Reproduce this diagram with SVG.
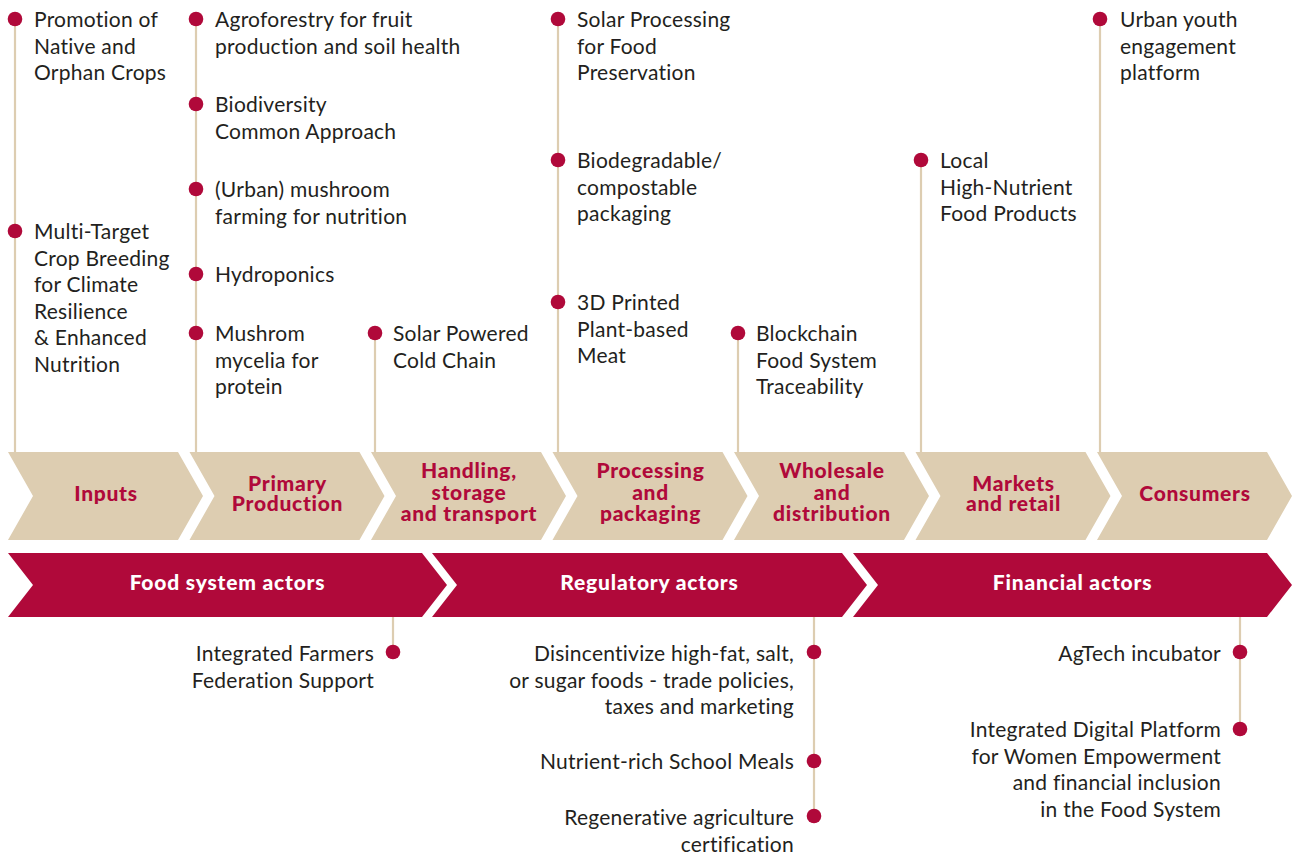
<svg xmlns="http://www.w3.org/2000/svg" width="1293" height="858" viewBox="0 0 1293 858">
<style>
.t{font-family:Lato,"Open Sans","Liberation Sans",sans-serif;font-size:21px;letter-spacing:0.25px;fill:#231f20}
.r{text-anchor:end}
.cl{font-family:Lato,"Open Sans","Liberation Sans",sans-serif;font-size:21px;font-weight:900;letter-spacing:0.7px;fill:#b0093a;text-anchor:middle}
.bl{font-family:Lato,"Open Sans","Liberation Sans",sans-serif;font-size:21px;font-weight:900;letter-spacing:0.8px;fill:#fff;text-anchor:middle}
.chev{fill:#ddcdb1}
.bar{fill:#b0093a}
.ln{stroke:#ddcdb1;stroke-width:2.2;fill:none}
.dot{fill:#b0093a}
</style>
<defs>
<path id="chev" d="M0,452 L170,452 L195,496 L170,540 L0,540 L25,496 Z"/>
</defs>
<g id="connectors">
<line class="ln" x1="15" y1="19" x2="15" y2="452"/>
<line class="ln" x1="196" y1="19" x2="196" y2="452"/>
<line class="ln" x1="375" y1="333" x2="375" y2="452"/>
<line class="ln" x1="558" y1="19" x2="558" y2="452"/>
<line class="ln" x1="738" y1="333" x2="738" y2="452"/>
<line class="ln" x1="921" y1="160" x2="921" y2="452"/>
<line class="ln" x1="1100" y1="19" x2="1100" y2="452"/>
<line class="ln" x1="393" y1="617" x2="393" y2="652"/>
<line class="ln" x1="814" y1="617" x2="814" y2="816"/>
<line class="ln" x1="1240" y1="617" x2="1240" y2="729"/>
</g>
<g id="chevron-inputs"><use href="#chev" class="chev" x="8"/><text class="cl" x="106" y="501">Inputs</text></g>
<g id="chevron-primary"><use href="#chev" class="chev" x="189.5"/><text class="cl"><tspan x="287.5" y="490.5">Primary</tspan><tspan x="287.5" y="511">Production</tspan></text></g>
<g id="chevron-handling"><use href="#chev" class="chev" x="371"/><text class="cl"><tspan x="469" y="478">Handling,</tspan><tspan x="469" y="499.5">storage</tspan><tspan x="469" y="521">and transport</tspan></text></g>
<g id="chevron-processing"><use href="#chev" class="chev" x="552.5"/><text class="cl"><tspan x="650.5" y="478">Processing</tspan><tspan x="650.5" y="499.5">and</tspan><tspan x="650.5" y="521">packaging</tspan></text></g>
<g id="chevron-wholesale"><use href="#chev" class="chev" x="734"/><text class="cl"><tspan x="832" y="478">Wholesale</tspan><tspan x="832" y="499.5">and</tspan><tspan x="832" y="521">distribution</tspan></text></g>
<g id="chevron-markets"><use href="#chev" class="chev" x="915.5"/><text class="cl"><tspan x="1013.5" y="490.5">Markets</tspan><tspan x="1013.5" y="511">and retail</tspan></text></g>
<g id="chevron-consumers"><use href="#chev" class="chev" x="1097"/><text class="cl" x="1195" y="501">Consumers</text></g>
<g id="bar-food"><path class="bar" d="M8,553 L422,553 L447,585 L422,617 L8,617 L33,585 Z"/><text class="bl" x="227.5" y="590">Food system actors</text></g>
<g id="bar-regulatory"><path class="bar" d="M432,553 L842,553 L867,585 L842,617 L432,617 L457,585 Z"/><text class="bl" x="649.5" y="590">Regulatory actors</text></g>
<g id="bar-financial"><path class="bar" d="M853,553 L1267,553 L1292,585 L1267,617 L853,617 L878,585 Z"/><text class="bl" x="1072.5" y="590">Financial actors</text></g>
<g id="item-native"><circle class="dot" cx="15" cy="19" r="7.3"/><text class="t" x="34" y="27">Promotion of</text><text class="t" x="34" y="53.5">Native and</text><text class="t" x="34" y="80">Orphan Crops</text></g>
<g id="item-breeding"><circle class="dot" cx="15" cy="231" r="7.3"/><text class="t" x="34" y="239">Multi-Target</text><text class="t" x="34" y="265.5">Crop Breeding</text><text class="t" x="34" y="292">for Climate</text><text class="t" x="34" y="318.5">Resilience</text><text class="t" x="34" y="345">&amp; Enhanced</text><text class="t" x="34" y="371.5">Nutrition</text></g>
<g id="item-agroforestry"><circle class="dot" cx="196" cy="19" r="7.3"/><text class="t" x="215" y="27">Agroforestry for fruit</text><text class="t" x="215" y="53.5">production and soil health</text></g>
<g id="item-biodiversity"><circle class="dot" cx="196" cy="104" r="7.3"/><text class="t" x="215" y="112">Biodiversity</text><text class="t" x="215" y="138.5">Common Approach</text></g>
<g id="item-mushroom"><circle class="dot" cx="196" cy="189" r="7.3"/><text class="t" x="215" y="197">(Urban) mushroom</text><text class="t" x="215" y="223.5">farming for nutrition</text></g>
<g id="item-hydroponics"><circle class="dot" cx="196" cy="274" r="7.3"/><text class="t" x="215" y="282">Hydroponics</text></g>
<g id="item-mycelia"><circle class="dot" cx="196" cy="333" r="7.3"/><text class="t" x="215" y="341">Mushrom</text><text class="t" x="215" y="367.5">mycelia for</text><text class="t" x="215" y="394">protein</text></g>
<g id="item-coldchain"><circle class="dot" cx="375" cy="333" r="7.3"/><text class="t" x="393" y="341">Solar Powered</text><text class="t" x="393" y="367.5">Cold Chain</text></g>
<g id="item-solarproc"><circle class="dot" cx="558" cy="19" r="7.3"/><text class="t" x="577" y="27">Solar Processing</text><text class="t" x="577" y="53.5">for Food</text><text class="t" x="577" y="80">Preservation</text></g>
<g id="item-packaging"><circle class="dot" cx="558" cy="160" r="7.3"/><text class="t" x="577" y="168">Biodegradable/</text><text class="t" x="577" y="194.5">compostable</text><text class="t" x="577" y="221">packaging</text></g>
<g id="item-3dmeat"><circle class="dot" cx="558" cy="302" r="7.3"/><text class="t" x="577" y="310">3D Printed</text><text class="t" x="577" y="336.5">Plant-based</text><text class="t" x="577" y="363">Meat</text></g>
<g id="item-blockchain"><circle class="dot" cx="738" cy="333" r="7.3"/><text class="t" x="756" y="341">Blockchain</text><text class="t" x="756" y="367.5">Food System</text><text class="t" x="756" y="394">Traceability</text></g>
<g id="item-local"><circle class="dot" cx="921" cy="160" r="7.3"/><text class="t" x="940" y="168">Local</text><text class="t" x="940" y="194.5">High-Nutrient</text><text class="t" x="940" y="221">Food Products</text></g>
<g id="item-youth"><circle class="dot" cx="1100" cy="19" r="7.3"/><text class="t" x="1120" y="27">Urban youth</text><text class="t" x="1120" y="53.5">engagement</text><text class="t" x="1120" y="80">platform</text></g>
<g id="item-federation"><circle class="dot" cx="393" cy="652" r="7.3"/><text class="t r" x="374" y="661">Integrated Farmers</text><text class="t r" x="374" y="687.5">Federation Support</text></g>
<g id="item-disincentivize"><circle class="dot" cx="814" cy="652" r="7.3"/><text class="t r" x="794" y="661">Disincentivize high-fat, salt,</text><text class="t r" x="794" y="687.5">or sugar foods - trade policies,</text><text class="t r" x="794" y="714">taxes and marketing</text></g>
<g id="item-meals"><circle class="dot" cx="814" cy="761" r="7.3"/><text class="t r" x="794" y="769">Nutrient-rich School Meals</text></g>
<g id="item-regen"><circle class="dot" cx="814" cy="816" r="7.3"/><text class="t r" x="794" y="825">Regenerative agriculture</text><text class="t r" x="794" y="851.5">certification</text></g>
<g id="item-agtech"><circle class="dot" cx="1240" cy="652" r="7.3"/><text class="t r" x="1221" y="661">AgTech incubator</text></g>
<g id="item-digital"><circle class="dot" cx="1240" cy="729" r="7.3"/><text class="t r" x="1221" y="737">Integrated Digital Platform</text><text class="t r" x="1221" y="763.5">for Women Empowerment</text><text class="t r" x="1221" y="790">and financial inclusion</text><text class="t r" x="1221" y="816.5">in the Food System</text></g>
</svg>
